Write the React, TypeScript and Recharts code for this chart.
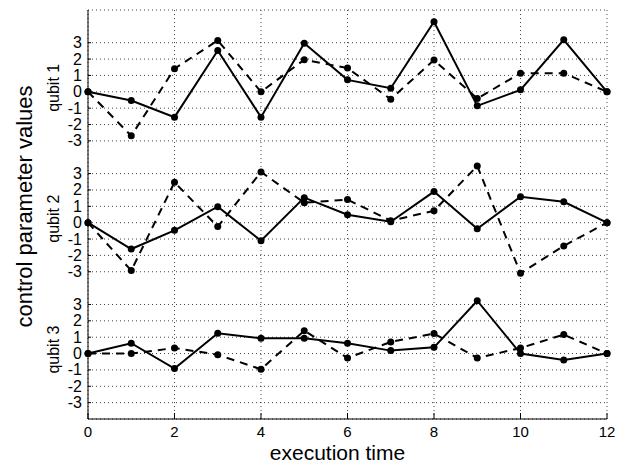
import { LineChart, Line, XAxis, YAxis, CartesianGrid } from "recharts";

const times = [0, 1, 2, 3, 4, 5, 6, 7, 8, 9, 10, 11, 12];

const qubit1Solid = [0, -0.53, -1.55, 2.52, -1.55, 2.97, 0.73, 0.22, 4.28, -0.86, 0.12, 3.18, 0];
const qubit1Dashed = [0, -2.69, 1.41, 3.14, 0, 1.96, 1.45, -0.45, 1.94, -0.41, 1.14, 1.14, 0];
const qubit2Solid = [0, -1.61, -0.47, 0.98, -1.1, 1.53, 0.49, 0.06, 1.9, -0.37, 1.59, 1.28, 0];
const qubit2Dashed = [0, -2.93, 2.47, -0.24, 3.1, 1.22, 1.41, 0.12, 0.73, 3.47, -3.09, -1.42, 0];
const qubit3Solid = [0, 0.63, -0.92, 1.24, 0.93, 0.93, 0.63, 0.18, 0.38, 3.23, 0, -0.39, 0];
const qubit3Dashed = [0, 0, 0.34, -0.07, -0.96, 1.4, -0.27, 0.71, 1.22, -0.27, 0.34, 1.16, 0];

// each qubit gets its own band on one shared y axis
const panelOffsets = [16, 8, 0];
const panelNames = ["qubit 1", "qubit 2", "qubit 3"];
const panelTicks = [-3, -2, -1, 0, 1, 2, 3];
const xTicks = [0, 2, 4, 6, 8, 10, 12];

const yTicks = panelOffsets.flatMap((o) => panelTicks.map((t) => t + o));

const data = times.map((t, i) => ({
  t,
  q1s: qubit1Solid[i] + panelOffsets[0],
  q1d: qubit1Dashed[i] + panelOffsets[0],
  q2s: qubit2Solid[i] + panelOffsets[1],
  q2d: qubit2Dashed[i] + panelOffsets[1],
  q3s: qubit3Solid[i] + panelOffsets[2],
  q3d: qubit3Dashed[i] + panelOffsets[2],
}));

const FONT = '"Liberation Sans", Arial, Helvetica, sans-serif';

const offsetOf = (v: number) => Math.floor((v + 4) / 8) * 8;

function YTick(props: any) {
  const { x, y, payload } = props;
  const v = payload.value as number;
  const off = offsetOf(v);
  const local = v - off;
  const idx = panelOffsets.indexOf(off);
  return (
    <g>
      <line x1={x + 6} x2={x + 9} y1={y} y2={y} stroke="#000" strokeWidth={1} />
      <text x={x} y={y} textAnchor="end" dominantBaseline="central" fontSize={16} fill="#000" fontFamily={FONT}>
        {local}
      </text>
      {local === 0 && idx >= 0 && (
        <text
          x={54}
          y={y - 4}
          transform={`rotate(-90 54 ${y - 4})`}
          textAnchor="middle"
          dominantBaseline="central"
          fontSize={16}
          fill="#000"
          fontFamily={FONT}
        >
          {panelNames[idx]}
        </text>
      )}
    </g>
  );
}

function XTick(props: any) {
  const { x, y, payload } = props;
  return (
    <g>
      <line x1={x} x2={x} y1={y} y2={y - 6} stroke="#000" strokeWidth={1} />
      <text x={x} y={y + 18} textAnchor="middle" fontSize={15} fill="#000" fontFamily={FONT}>
        {payload.value}
      </text>
    </g>
  );
}

const xLabel = (props: any) => {
  const vb = props.viewBox;
  return (
    <text x={vb.x + vb.width / 2 - 10} y={vb.y + vb.height - 5} textAnchor="middle" fontSize={21} fill="#000" fontFamily={FONT}>
      execution time
    </text>
  );
};

const yLabel = (props: any) => {
  const vb = props.viewBox;
  const cx = vb.x + 24;
  const cy = vb.y + vb.height / 2 - 8;
  return (
    <text
      x={cx}
      y={cy}
      transform={`rotate(-90 ${cx} ${cy})`}
      textAnchor="middle"
      dominantBaseline="central"
      fontSize={22}
      fill="#000"
      fontFamily={FONT}
    >
      control parameter values
    </text>
  );
};

const dot = { r: 3.5, fill: "#000", stroke: "#000", strokeWidth: 0 };

export default function App() {
  return (
    <div style={{ position: "absolute", left: 0, top: 0, background: "#fff" }}>
      <LineChart width={617} height={465} data={data} margin={{ top: 10, right: 10, left: 0, bottom: 0 }} style={{ fontFamily: FONT }}>
        <CartesianGrid stroke="#444" strokeDasharray="1 3" />
        <XAxis
          dataKey="t"
          type="number"
          domain={[0, 12]}
          ticks={xTicks}
          height={46}
          tickSize={0}
          tickMargin={0}
          tickLine={false}
          tick={<XTick />}
          axisLine={{ stroke: "#000" }}
          label={{ content: xLabel }}
        />
        <YAxis
          type="number"
          domain={[-4, 21]}
          ticks={yTicks}
          width={88}
          interval={0}
          tickSize={0}
          tickMargin={6}
          tickLine={false}
          tick={<YTick />}
          axisLine={{ stroke: "#000" }}
          label={{ content: yLabel }}
        />
        <Line type="linear" dataKey="q1s" stroke="#000" strokeWidth={2} dot={dot} isAnimationActive={false} />
        <Line type="linear" dataKey="q1d" stroke="#000" strokeWidth={2} strokeDasharray="8 6" dot={dot} isAnimationActive={false} />
        <Line type="linear" dataKey="q2s" stroke="#000" strokeWidth={2} dot={dot} isAnimationActive={false} />
        <Line type="linear" dataKey="q2d" stroke="#000" strokeWidth={2} strokeDasharray="8 6" dot={dot} isAnimationActive={false} />
        <Line type="linear" dataKey="q3s" stroke="#000" strokeWidth={2} dot={dot} isAnimationActive={false} />
        <Line type="linear" dataKey="q3d" stroke="#000" strokeWidth={2} strokeDasharray="8 6" dot={dot} isAnimationActive={false} />
      </LineChart>
    </div>
  );
}
